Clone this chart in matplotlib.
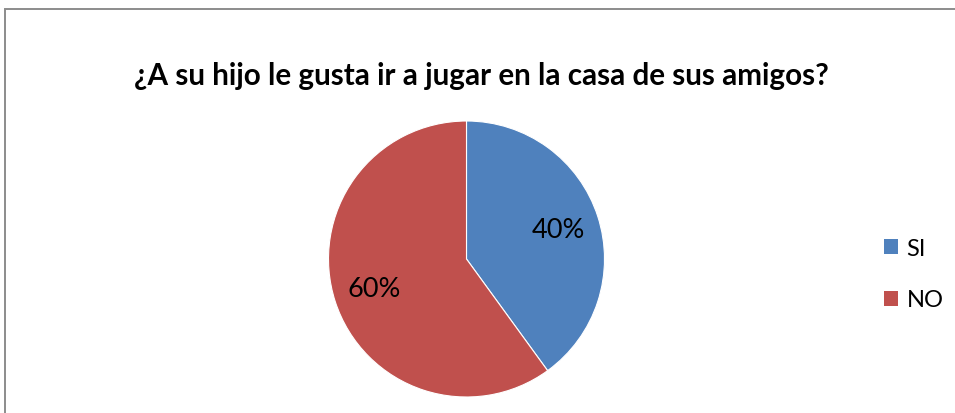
import matplotlib
matplotlib.use("Agg")
import matplotlib.pyplot as plt
from matplotlib.patches import Rectangle, Patch

# Data
title = "¿A su hijo le gusta ir a jugar en la casa de sus amigos?"
categories = ["SI", "NO"]
values = [40, 60]
colors = ["#4F81BD", "#C0504D"]

plt.rcParams['font.family'] = ['Lato', 'DejaVu Sans']

W, H = 955, 414
fig = plt.figure(figsize=(W / 100, H / 100), dpi=100)

# outer frame
fig.patches.append(Rectangle((5 / W, -0.2), 2.0, (H - 10) / H + 0.2,
                             transform=fig.transFigure, fill=False,
                             ec="#8c8c8c", lw=1.4))

cx, cy, r = 466.5, 260, 138
ax = fig.add_axes([(cx - r) / W, (H - cy - r) / H, 2 * r / W, 2 * r / H])
wedges, texts, autotexts = ax.pie(
    values, colors=colors, startangle=90, counterclock=False,
    autopct=lambda p: f"{p:.0f}%", pctdistance=0.70, radius=1,
    wedgeprops=dict(edgecolor="white", linewidth=0.8),
    textprops=dict(fontsize=19.5, color="black"))
ax.set_xlim(-1, 1)
ax.set_ylim(-1, 1)
ax.set_aspect("equal")
ax.axis("off")

fig.text(481 / W, 1 - 76 / H, title, ha="center", va="center",
         fontsize=21.3, fontweight="bold")

handles = [Patch(facecolor=c, edgecolor="none") for c in colors]
fig.legend(handles, categories, loc="center left",
           bbox_to_anchor=(884 / W, 1 - 275 / H), frameon=False,
           fontsize=17, handlelength=0.6, handleheight=0.6,
           handletextpad=0.35, labelspacing=1.3, borderaxespad=0,
           borderpad=0)

fig.savefig("out.png", dpi=100)
